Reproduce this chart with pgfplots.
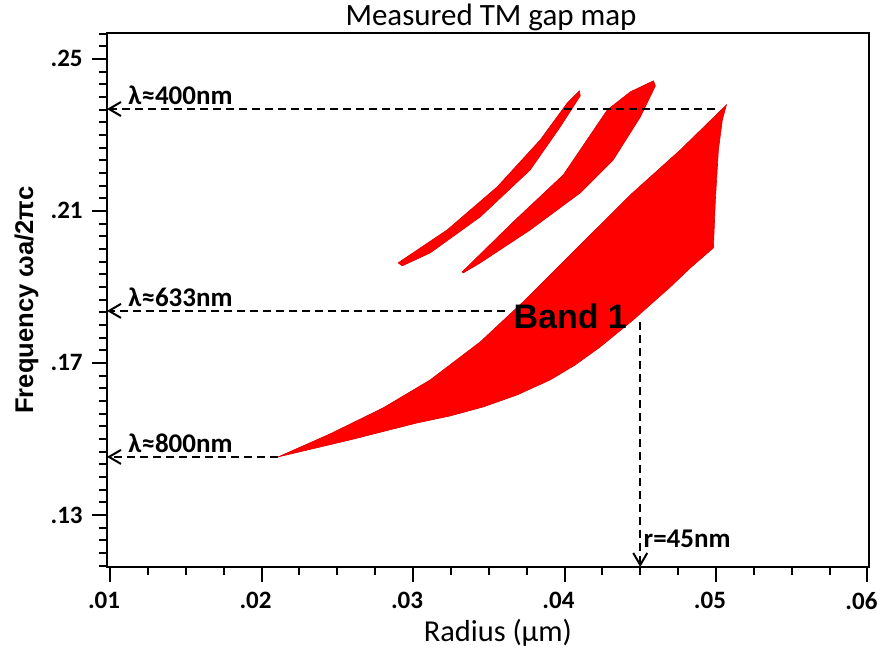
\documentclass[border=0pt]{standalone}
\usepackage{fontspec}
\setmainfont{Carlito}
\newfontfamily\arialfont{Liberation Sans}
\usepackage{pgfplots}
\pgfplotsset{compat=1.18}
\usetikzlibrary{arrows.meta}

\begin{document}
\begin{tikzpicture}
\begin{axis}[
  scale only axis, width=381pt, height=267pt,
  xmin=0.0098, xmax=0.0601, ymin=0.1163, ymax=0.2568,
  scaled ticks=false,
  clip=false,
  axis line style={line width=1pt},
  every tick/.style={line width=1pt, black},
  tick align=outside,
  major tick length=7.5pt, minor tick length=4pt,
  xtick pos=left, ytick pos=left,
  xtick={0.01,0.02,0.03,0.04,0.05,0.06},
  xticklabels={.01,.02,.03,.04,.05,.06},
  minor xtick={0.0125,0.015,...,0.0576},
  ytick={0.13,0.17,0.21,0.25},
  yticklabels={.13,.17,.21,.25},
  minor ytick={0.116667,0.12,...,0.2567},
  ticklabel style={font=\fontsize{12.5}{14}\selectfont\bfseries},
  yticklabel style={inner sep=0pt, xshift=-4.5pt},
  xticklabel style={inner sep=0pt, yshift=-5pt, xshift=-3pt},
  title={Measured TM gap map},
  title style={at={(axis description cs:0.504,1)}, anchor=base, yshift=-2.5pt,
    font=\fontsize{15.5}{17}\selectfont},
  xlabel={Radius (μm)},
  xlabel style={at={(axis description cs:0.513,-0.1404)}, anchor=base,
    font=\fontsize{15.2}{17}\selectfont},
  ylabel={Frequency ωa/2πc},
  ylabel style={at={(axis description cs:-0.0971,0.5)}, anchor=base, rotate=0,
    font=\arialfont\bfseries\fontsize{12.8}{15}\selectfont},
]

% Band 1 (lowest gap)
\addplot[fill=red, draw=red!85!black, line width=0.3pt] coordinates {
  (0.02110,0.14526) (0.02453,0.15132) (0.02803,0.15816) (0.03114,0.16553)
  (0.03444,0.17553) (0.03741,0.18658) (0.04104,0.20105) (0.04435,0.21421)
  (0.04765,0.22605) (0.05069,0.23789) (0.05042,0.23395) (0.05016,0.22605)
  (0.04996,0.21289) (0.04983,0.20026) (0.04831,0.19500) (0.04699,0.19000)
  (0.04454,0.18132) (0.04236,0.17421) (0.04071,0.16947) (0.03906,0.16553)
  (0.03688,0.16158) (0.03464,0.15842) (0.03246,0.15605) (0.03028,0.15421)
  (0.02585,0.14974)
} -- cycle;

% middle gap
\addplot[fill=red, draw=red!85!black, line width=0.3pt] coordinates {
  (0.03325,0.19395) (0.03662,0.20711) (0.03992,0.21947) (0.04283,0.23658)
  (0.04435,0.24132) (0.04587,0.24421) (0.04600,0.24289) (0.04501,0.23474)
  (0.04322,0.22342) (0.04104,0.21474) (0.03774,0.20500) (0.03444,0.19632)
  (0.03332,0.19368)
} -- cycle;

% upper-left gap
\addplot[fill=red, draw=red!85!black, line width=0.3pt] coordinates {
  (0.02902,0.19632) (0.03226,0.20500) (0.03556,0.21632) (0.03840,0.22868)
  (0.04019,0.23842) (0.04098,0.24158) (0.04104,0.24026) (0.03972,0.23211)
  (0.03774,0.22079) (0.03444,0.20842) (0.03114,0.19895) (0.02929,0.19553)
} -- cycle;

% wavelength guides
\addplot[black, line width=1pt, dash pattern=on 4pt off 2.5pt,
  -{Straight Barb[length=6pt,width=7pt]}]
  coordinates {(0.04996,0.2368) (0.0098,0.2368)};
\addplot[black, line width=1pt, dash pattern=on 4pt off 2.5pt,
  -{Straight Barb[length=6pt,width=7pt]}]
  coordinates {(0.03609,0.18368) (0.0098,0.18368)};
\addplot[black, line width=1pt, dash pattern=on 4pt off 2.5pt,
  -{Straight Barb[length=6pt,width=7pt]}]
  coordinates {(0.02110,0.14526) (0.0098,0.14526)};
\addplot[black, line width=1pt, dash pattern=on 4pt off 2.5pt,
  -{Straight Barb[length=6pt,width=7pt]}]
  coordinates {(0.0450,0.18079) (0.0450,0.1163)};

\node[anchor=base west, inner sep=0pt, font=\fontsize{13.5}{15}\selectfont\bfseries]
  at ([yshift=2pt]axis cs:0.01119,0.2368) {λ≈400nm};
\node[anchor=base west, inner sep=0pt, font=\fontsize{13.5}{15}\selectfont\bfseries]
  at ([yshift=2pt]axis cs:0.01119,0.18368) {λ≈633nm};
\node[anchor=base west, inner sep=0pt, font=\fontsize{13.5}{15}\selectfont\bfseries]
  at ([yshift=2pt]axis cs:0.01119,0.14526) {λ≈800nm};
\node[anchor=base west, inner sep=0pt, font=\fontsize{13.5}{15}\selectfont\bfseries]
  at (axis cs:0.0452,0.1213) {r=45nm};
\node[inner sep=0pt, font=\arialfont\bfseries\fontsize{17}{19}\selectfont]
  at (axis cs:0.04038,0.18237) {Band 1};
\end{axis}
\pgfresetboundingbox
\path[use as bounding box] ([xshift=-53.5pt,yshift=-41.5pt]current axis.south west)
  rectangle ([xshift=6.5pt,yshift=16.5pt]current axis.north east);
\end{tikzpicture}
\end{document}
